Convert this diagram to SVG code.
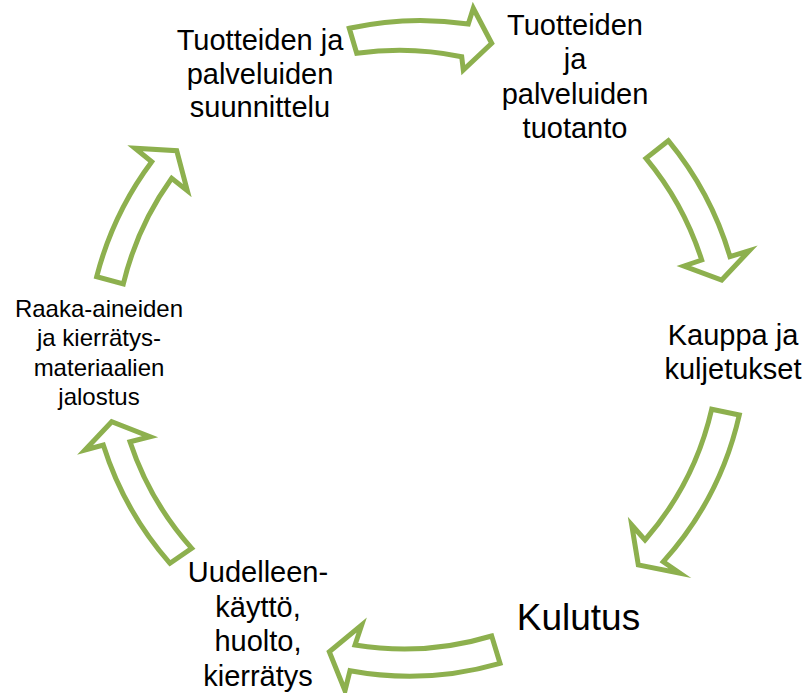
<svg xmlns="http://www.w3.org/2000/svg" width="808" height="693" viewBox="0 0 808 693">
<style>
.arrow{fill:#ffffff;stroke:#8DB04E;stroke-width:5;stroke-linejoin:miter;stroke-miterlimit:10}
.t{font-family:"Liberation Sans",Arial,sans-serif;font-size:29px;fill:#000;text-anchor:middle}
.s{font-size:24px}
.k{font-size:37px}
</style>
<rect width="808" height="693" fill="#ffffff"/>
<g id="connectors">
<path class="arrow" d="M349.3,28.3 A328,328 0 0 1 468.3,24 L473.3,8.3 L491.7,43.3 L463.3,70 L461.7,56.7 A302,302 0 0 0 356.7,53.3 Z"/>
<path class="arrow" d="M668.3,140.7 A328,328 0 0 1 730,256.7 L749.3,250.7 L721.7,280 L684,266 L701.7,260 A302,302 0 0 0 646,158.3 Z"/>
<path class="arrow" d="M739.3,415 A328,328 0 0 1 663.3,561.7 L680,573.3 L638.3,565 L631.7,525 L645,540 A302,302 0 0 0 711.7,409.3 Z"/>
<path class="arrow" d="M500,663.3 A328,328 0 0 1 350,670.7 L345,690.7 L329.3,651.7 L361.7,625 L355,645 A302,302 0 0 0 491.7,636 Z"/>
<path class="arrow" d="M170,563.3 A328,328 0 0 1 103.3,445 L85,450 L111.7,421.7 L150,436.7 L130,441.7 A302,302 0 0 0 191.7,548.3 Z"/>
<path class="arrow" d="M96.7,276.7 A328,328 0 0 1 151.7,161.7 L135,148.3 L176.7,150.7 L187.3,190.7 L171.7,178.3 A302,302 0 0 0 123.3,284 Z"/>
</g>
<g id="node-suunnittelu">
<text class="t" x="260" y="50">Tuotteiden ja</text>
<text class="t" x="260" y="83.5">palveluiden</text>
<text class="t" x="260" y="117">suunnittelu</text>
</g>
<g id="node-tuotanto">
<text class="t" x="575" y="34.5">Tuotteiden</text>
<text class="t" x="575" y="69">ja</text>
<text class="t" x="575" y="103.5">palveluiden</text>
<text class="t" x="575" y="138">tuotanto</text>
</g>
<g id="node-kauppa">
<text class="t" x="733" y="344.5">Kauppa ja</text>
<text class="t" x="733" y="379">kuljetukset</text>
</g>
<g id="node-kulutus">
<text class="t k" x="578.5" y="630">Kulutus</text>
</g>
<g id="node-uudelleenkaytto">
<text class="t" x="258" y="582">Uudelleen-</text>
<text class="t" x="258" y="616.5">käyttö,</text>
<text class="t" x="258" y="651">huolto,</text>
<text class="t" x="258" y="685.5">kierrätys</text>
</g>
<g id="node-jalostus">
<text class="t s" x="99" y="316.5">Raaka-aineiden</text>
<text class="t s" x="99" y="346">ja kierrätys-</text>
<text class="t s" x="99" y="375.5">materiaalien</text>
<text class="t s" x="99" y="405">jalostus</text>
</g>
</svg>
